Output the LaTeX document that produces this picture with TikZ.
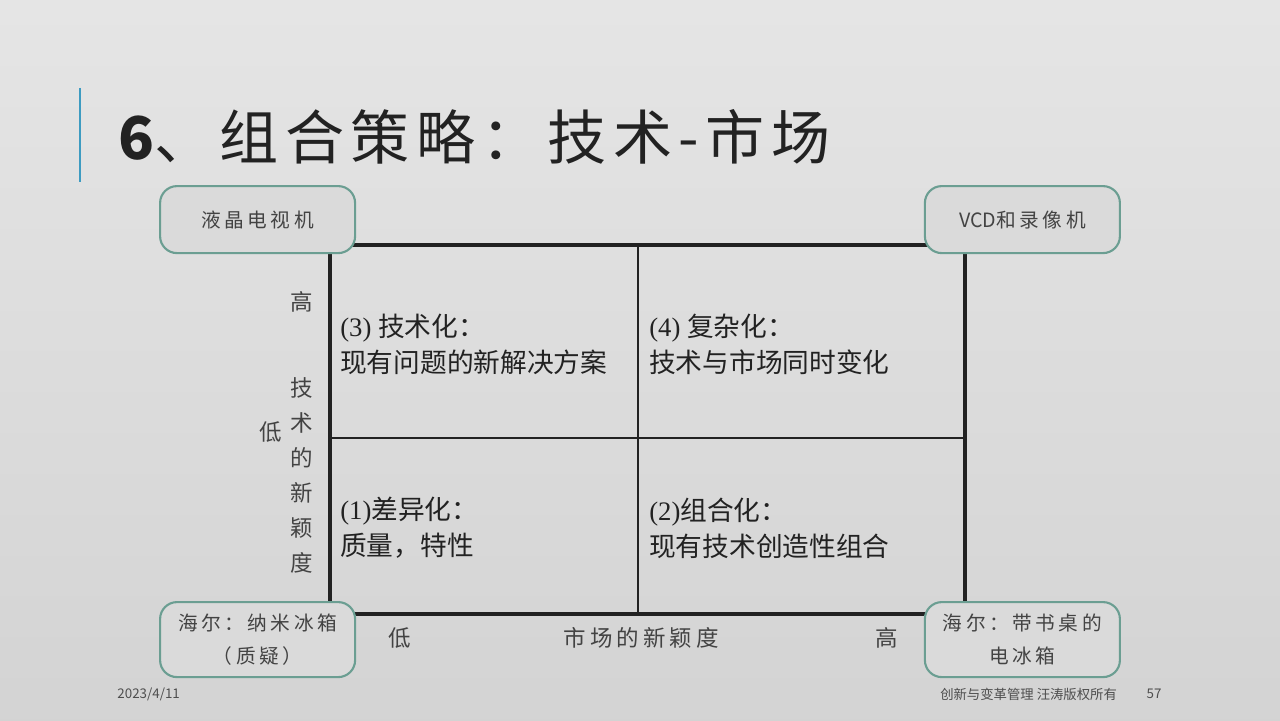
\documentclass[tikz,border=0pt]{standalone}
\usepackage{fontspec}
\setmainfont{Liberation Serif}
\newfontfamily\cjk{Noto Sans CJK SC}
\newfontfamily\cjkwide[LetterSpace=18]{Noto Sans CJK SC}
\newfontfamily\cjktitle[LetterSpace=11]{Noto Sans CJK SC}
\usetikzlibrary{positioning}
\definecolor{slidebg}{HTML}{DADADA}
\definecolor{barblue}{HTML}{3D9BC1}
\definecolor{boxteal}{HTML}{6B9E92}
\definecolor{inktext}{HTML}{222222}
\tikzstyle{cornerbox} = [draw=boxteal, line width=1.5pt, rounded corners=12pt, fill=slidebg, minimum width=4.875cm, align=center, text=inktext!85, font=\fontsize{14}{24}\cjkwide]
\tikzstyle{quadtext}  = [anchor=west, inner sep=0pt, align=left, text=inktext, font=\fontsize{19}{25.6}\selectfont]
\tikzstyle{axislabel} = [inner sep=0pt, text=inktext!85, font=\fontsize{16}{24.9}\cjkwide]
\tikzstyle{outerline} = [line width=2.2pt, inktext]
\tikzstyle{innerline} = [line width=1.2pt, inktext]
\tikzstyle{footer}    = [inner sep=0pt, text=inktext!80, font=\fontsize{9.5}{11}\cjk]

\begin{document}
\begin{tikzpicture}[x=1cm, y=1cm]

% slide
\shade[top color=slidebg!70!white, bottom color=slidebg!97!black] (0,0) rectangle (32,18);
\useasboundingbox (0,0) rectangle (32,18);

% title
\draw[barblue, line width=1.6pt] (2,15.8) -- (2,13.45);
\node[anchor=west, inner sep=0pt, text=inktext, font=\fontsize{42}{50}\cjktitle] (title) at (2.95,14.58) {{\bfseries 6}、组合策略：技术-市场};

% matrix
\coordinate (g-sw) at (8.25,2.65);
\coordinate (g-ne) at (24.125,11.875);
\coordinate (g-mid) at (15.95,7.05);
\draw[innerline] (g-mid |- g-sw) -- (g-mid |- g-ne);
\draw[innerline] (g-mid -| g-sw) -- (g-mid -| g-ne);
\draw[outerline] (g-sw) rectangle (g-ne);

% quadrants
\node[quadtext] (q3) at (8.5,9.4)    {(3) {\cjk 技术化：}\\{\cjk 现有问题的新解决方案}};
\node[quadtext] (q4) at (16.225,9.4) {(4) {\cjk 复杂化：}\\{\cjk 技术与市场同时变化}};
\node[quadtext] (q1) at (8.5,4.8)    {(1){\cjk 差异化：}\\{\cjk 质量，特性}};
\node[quadtext] (q2) at (16.225,4.8) {(2){\cjk 组合化：}\\{\cjk 现有技术创造性组合}};

% axes
\node[axislabel] (y-hi)  at (7.55,10.45) {高};
\node[axislabel, align=center] (y-name) at (7.55,6.125) {技\\术\\的\\新\\颖\\度};
\node[axislabel] (y-lo)  at (6.775,7.2) {低};
\node[axislabel] (x-lo)  at (10.0,2.05) {低};
\node[axislabel] (x-name) at (16.03,2.05) {市场的新颖度};
\node[axislabel] (x-hi)  at (22.18,2.05) {高};

% examples in the corners
\node[cornerbox, minimum height=1.675cm] (tl) at (6.44,12.51)  {液晶电视机};
\node[cornerbox, minimum height=1.675cm] (tr) at (25.56,12.51) {{\cjk VCD}和录像机};
\node[cornerbox, minimum height=1.875cm] (bl) at (6.44,2.01)   {海尔：纳米冰箱\\（质疑）};
\node[cornerbox, minimum height=1.875cm] (br) at (25.56,2.01)  {海尔：带书桌的\\电冰箱};

% footer
\node[footer, anchor=west] (date) at (2.93,0.65) {2023/4/11};
\node[footer, anchor=west] (copy) at (23.5,0.65) {创新与变革管理 汪涛版权所有};
\node[footer] (page) at (28.85,0.65) {57};

\end{tikzpicture}
\end{document}
